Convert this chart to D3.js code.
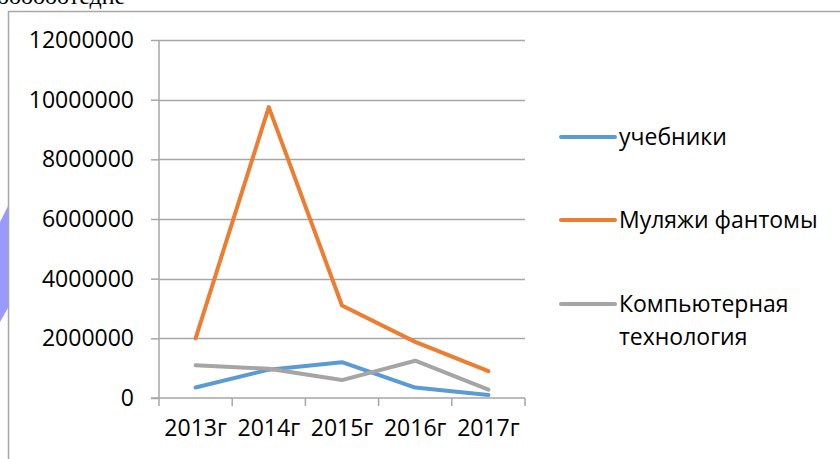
<!DOCTYPE html>
<html>
<head>
<meta charset="utf-8">
<script src="https://cdn.jsdelivr.net/npm/d3@7"></script>
<style>
  body { margin: 0; background: #fff; }
  svg { display: block; }
</style>
</head>
<body>
<div id="chart-area"></div>
<script>
// data
var years = ["2013г", "2014г", "2015г", "2016г", "2017г"];
var seriesNames = ["учебники", "Муляжи фантомы", "Компьютерная технология"];
var uchebniki = [350000, 950000, 1200000, 350000, 100000];
var mulyazhi = [2000000, 9750000, 3100000, 1880000, 900000];
var komp = [1100000, 980000, 600000, 1250000, 280000];
var yTicks = [0, 2000000, 4000000, 6000000, 8000000, 10000000, 12000000];

var colors = ["#5b9bd5", "#ed7d31", "#a5a5a5"];
var series = [uchebniki, mulyazhi, komp];

var W = 840, H = 459;
var plot = { left: 159, right: 525, top: 40, bottom: 398 };

var svg = d3.select("#chart-area")
    .append("svg")
        .attr("width", W)
        .attr("height", H);

// bits of the page around the chart
svg.append("text")
    .attr("x", -3)
    .attr("y", 4)
    .attr("font-family", "Liberation Serif")
    .attr("font-size", "24px")
    .attr("fill", "#000")
    .text("оооооотедне");

svg.append("polygon")
    .attr("points", "0,222 8,206 8,308 0,322")
    .attr("fill", "#9999ff");

// chart border (left + top only visible)
svg.append("path")
    .attr("d", "M8.5," + H + " L8.5,11.5 L" + W + ",11.5")
    .attr("fill", "none")
    .attr("stroke", "#a6a6a6")
    .attr("stroke-width", 1.5);

var x = d3.scaleBand()
    .domain(years)
    .range([plot.left, plot.right])
    .padding(0);

var y = d3.scaleLinear()
    .domain([0, 12000000])
    .range([plot.bottom, plot.top]);

// gridlines
svg.append("g")
    .selectAll("line")
    .data(yTicks.slice(1))
    .enter()
    .append("line")
        .attr("x1", plot.left)
        .attr("x2", plot.right)
        .attr("y1", function(d){ return Math.round(y(d)) + 0.5; })
        .attr("y2", function(d){ return Math.round(y(d)) + 0.5; })
        .attr("stroke", "#a6a6a6")
        .attr("stroke-width", 1.5);

// Y axis
var yAxisCall = d3.axisLeft(y)
    .tickValues(yTicks)
    .tickSize(8)
    .tickPadding(17)
    .tickFormat(function(d){ return d; });
var yAxis = svg.append("g")
    .attr("transform", "translate(" + plot.left + ",0)")
    .call(yAxisCall);
yAxis.select(".domain").attr("stroke", "#a6a6a6").attr("stroke-width", 1.5)
    .attr("d", "M0," + plot.top + "V" + plot.bottom);
yAxis.selectAll(".tick line").attr("stroke", "#a6a6a6").attr("stroke-width", 1.5);
yAxis.selectAll("text")
    .attr("font-family", "Open Sans")
    .attr("font-size", "23px")
    .attr("fill", "#000");

// X axis
var xAxisCall = d3.axisBottom(x).tickSize(0).tickPadding(22);
var xAxis = svg.append("g")
    .attr("transform", "translate(0," + plot.bottom + ")")
    .call(xAxisCall);
xAxis.select(".domain").attr("stroke", "#a6a6a6").attr("stroke-width", 1.5)
    .attr("d", "M" + (plot.left - 8) + ",0H" + plot.right);
xAxis.selectAll("text")
    .attr("font-family", "Open Sans")
    .attr("font-size", "23px")
    .attr("fill", "#000");

// category boundary ticks
var bounds = years.map(function(d){ return x(d); }).concat([x(years[years.length - 1]) + x.bandwidth()]);
xAxis.selectAll(".btick")
    .data(bounds)
    .enter()
    .append("line")
        .attr("class", "btick")
        .attr("x1", function(d){ return d; })
        .attr("x2", function(d){ return d; })
        .attr("y1", 0)
        .attr("y2", 8)
        .attr("stroke", "#a6a6a6")
        .attr("stroke-width", 1.5);

// lines
var line = d3.line()
    .x(function(d, i){ return x(years[i]) + x.bandwidth() / 2; })
    .y(function(d){ return y(d); });

svg.append("g")
    .selectAll("path")
    .data(series)
    .enter()
    .append("path")
        .attr("d", line)
        .attr("fill", "none")
        .attr("stroke", function(d, i){ return colors[i]; })
        .attr("stroke-width", 4)
        .attr("stroke-linejoin", "round")
        .attr("stroke-linecap", "round");

// legend
var legendY = [137, 220, 304];
var legend = svg.append("g");
seriesNames.forEach(function(name, i){
    legend.append("line")
        .attr("x1", 561)
        .attr("x2", 615)
        .attr("y1", legendY[i])
        .attr("y2", legendY[i])
        .attr("stroke", colors[i])
        .attr("stroke-width", 4)
        .attr("stroke-linecap", "round");
    var words = i === 2 ? ["Компьютерная", "технология"] : [name];
    var t = legend.append("text")
        .attr("x", 619)
        .attr("y", legendY[i])
        .attr("font-family", "Open Sans")
        .attr("font-size", "23px")
        .attr("fill", "#000");
    words.forEach(function(w, j){
        t.append("tspan")
            .attr("x", 619)
            .attr("dy", j === 0 ? "0.35em" : "33px")
            .text(w);
    });
});
</script>
</body>
</html>
